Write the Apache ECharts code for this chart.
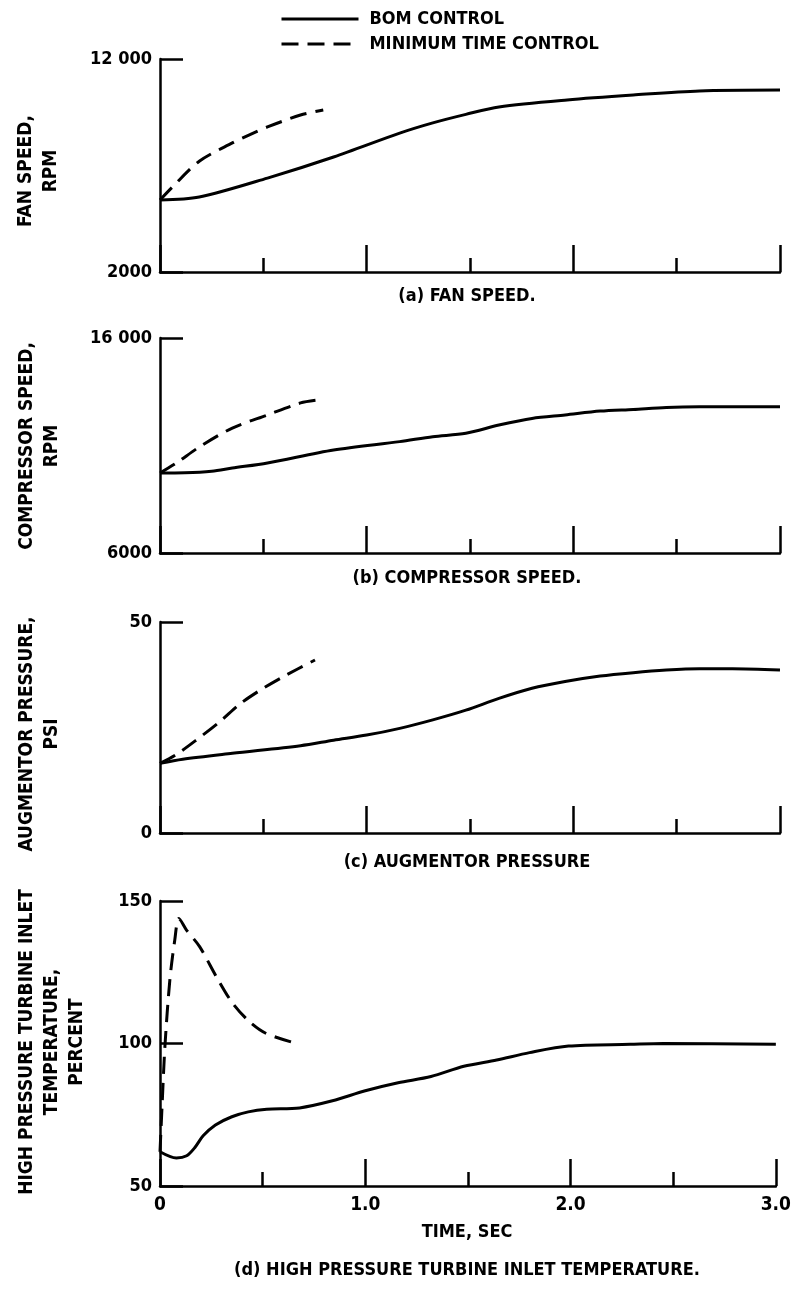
<!DOCTYPE html>
<html><head><meta charset="utf-8">
<script src="https://cdn.jsdelivr.net/npm/echarts@6/dist/echarts.min.js"></script>
<style>html,body{margin:0;padding:0;background:#fff}#c{width:794px;height:1291px}</style>
</head><body><div id="c"></div>
<script>
// ---------- DATA ----------
const seriesNames = ['BOM CONTROL', 'MINIMUM TIME CONTROL'];
const xTicks = ['0', '1.0', '2.0', '3.0'];

// (a) Fan speed, rpm
const fanBomT = [0, 0.19, 0.52, 0.84, 1.16, 1.32, 1.48, 1.64, 1.97, 2.29, 2.61, 3.0];
const fanBomV = [5380, 5520, 6410, 7400, 8520, 9000, 9400, 9750, 10080, 10310, 10500, 10540];
const fanMinT = [0, 0.06, 0.19, 0.35, 0.43, 0.52, 0.68, 0.79];
const fanMinV = [5380, 5990, 7200, 8060, 8430, 8810, 9370, 9610];

// (b) Compressor speed, rpm
const compBomT = [0, 0.12, 0.25, 0.35, 0.52, 0.84, 1.16, 1.32, 1.48, 1.64, 1.80, 1.96, 2.13, 2.29, 2.45, 2.61, 3.0];
const compBomV = [9720, 9730, 9800, 9950, 10190, 10790, 11180, 11410, 11570, 11950, 12260, 12420, 12600, 12680, 12770, 12800, 12800];
const compMinT = [0, 0.08, 0.19, 0.35, 0.52, 0.68, 0.765];
const compMinV = [9720, 10190, 10930, 11810, 12420, 12980, 13120];

// (c) Augmentor pressure, psi
const augBomT = [0, 0.11, 0.35, 0.68, 0.84, 1.0, 1.16, 1.32, 1.48, 1.64, 1.80, 1.96, 2.13, 2.29, 2.45, 2.61, 2.77, 3.0];
const augBomV = [16.5, 17.5, 18.9, 20.7, 22.0, 23.2, 24.8, 26.8, 29.1, 31.9, 34.3, 35.9, 37.2, 38.0, 38.6, 38.9, 38.9, 38.6];
const augMinT = [0, 0.076, 0.175, 0.29, 0.39, 0.50, 0.61, 0.75];
const augMinV = [16.5, 18.5, 22.0, 26.4, 30.7, 34.3, 37.4, 41.0];

// (d) High pressure turbine inlet temperature, percent
const tempBomT = [0, 0.08, 0.13, 0.17, 0.21, 0.27, 0.35, 0.43, 0.52, 0.68, 0.84, 1.0, 1.16, 1.32, 1.48, 1.64, 1.80, 1.99, 2.29, 2.45, 3.0];
const tempBomV = [62, 59.8, 60.6, 63.5, 67.6, 71.4, 74.3, 76.0, 76.9, 77.4, 79.9, 83.4, 86.2, 88.4, 92.0, 94.2, 96.8, 99.1, 99.7, 100, 99.7];
const tempMinT = [0, 0.01, 0.024, 0.048, 0.072, 0.092, 0.129, 0.193, 0.274, 0.354, 0.435, 0.515, 0.66];
const tempMinV = [62, 78, 99, 122.3, 136.3, 143.9, 139.8, 134, 123.5, 114.1, 107.7, 103.6, 100.1];

// y-axis settings per panel
const yMins = [2000, 6000, 0, 50];
const yMaxs = [12000, 16000, 50, 150];
const yIntervals = [10000, 10000, 50, 50];
const yTitles = ['FAN SPEED,\nRPM', 'COMPRESSOR SPEED,\nRPM', 'AUGMENTOR PRESSURE,\nPSI', 'HIGH PRESSURE TURBINE INLET\nTEMPERATURE,\nPERCENT'];
const captions = ['(a) FAN SPEED.', '(b) COMPRESSOR SPEED.', '(c) AUGMENTOR PRESSURE', '(d) HIGH PRESSURE TURBINE INLET TEMPERATURE.'];
const xTitle = 'TIME, SEC';

// ---------- LAYOUT ----------
const FONT = "'DejaVu Sans Condensed', 'Liberation Sans Narrow', sans-serif";
const INK = '#000';
const grids = [
  {left: 160, right: 14, top: 59, height: 213},
  {left: 160, right: 14, top: 338, height: 215},
  {left: 160, right: 14, top: 622, height: 211},
  {left: 160, right: 14, top: 901, height: 285}
];
const titlePos = [[39, 171], [40, 446], [40, 734], [52, 1042]];
const captionY = [296, 578, 862, 1270];

function pairs(t, v) { return t.map((x, i) => [x, v[i]]); }
const data = [
  [pairs(fanBomT, fanBomV), pairs(fanMinT, fanMinV)],
  [pairs(compBomT, compBomV), pairs(compMinT, compMinV)],
  [pairs(augBomT, augBomV), pairs(augMinT, augMinV)],
  [pairs(tempBomT, tempBomV), pairs(tempMinT, tempMinV)]
];

const xAxes = grids.map((g, i) => ({
  type: 'value', gridIndex: i, min: 0, max: 3, interval: 1,
  axisLine: {show: true, lineStyle: {color: INK, width: 2.5}},
  axisTick: {show: true, inside: true, length: 27, lineStyle: {color: INK, width: 2.5}},
  minorTick: {show: true, splitNumber: 2, length: 14, lineStyle: {color: INK, width: 2.5}},
  splitLine: {show: false},
  axisLabel: {show: i === 3, margin: 10, color: INK, fontFamily: FONT, fontWeight: 'bold', fontSize: 19,
    formatter: v => xTicks[Math.round(v)]}
}));

const yAxes = grids.map((g, i) => ({
  type: 'value', gridIndex: i, min: yMins[i], max: yMaxs[i], interval: yIntervals[i],
  axisLine: {show: true, lineStyle: {color: INK, width: 2.5}},
  axisTick: {show: true, inside: true, length: 23, lineStyle: {color: INK, width: 2.5}},
  splitLine: {show: false},
  axisLabel: {margin: 8, color: INK, fontFamily: FONT, fontWeight: 'bold', fontSize: 18,
    formatter: v => v >= 10000 ? String(v).replace(/(\d)(\d{3})$/, '$1 $2') : String(v)}
}));

const series = [];
data.forEach((pair, i) => {
  pair.forEach((d, k) => {
    series.push({
      name: seriesNames[k], type: 'line', xAxisIndex: i, yAxisIndex: i,
      data: d, symbol: 'none', smooth: 0.3, silent: true,
      itemStyle: {color: INK},
      lineStyle: {color: INK, width: 3, type: k === 0 ? 'solid' : [17, 9]}
    });
  });
});

const graphics = [];
yTitles.forEach((t, i) => {
  graphics.push({type: 'text', x: titlePos[i][0], y: titlePos[i][1], rotation: Math.PI / 2,
    style: {text: t, align: 'center', verticalAlign: 'middle', lineHeight: 25,
      font: "bold 19px " + FONT, fill: INK}});
});
captions.forEach((t, i) => {
  graphics.push({type: 'text', x: 467, y: captionY[i],
    style: {text: t, align: 'center', verticalAlign: 'middle', font: "bold 18px " + FONT, fill: INK}});
});
graphics.push({type: 'text', x: 467, y: 1232,
  style: {text: xTitle, align: 'center', verticalAlign: 'middle', font: "bold 18px " + FONT, fill: INK}});

const chart = echarts.init(document.getElementById('c'), null, {renderer: 'canvas'});
chart.setOption({
  backgroundColor: '#fff',
  animation: false,
  legend: {
    data: seriesNames, orient: 'vertical', left: 275, top: 5, itemWidth: 77, itemHeight: 14, itemGap: 7,
    selectedMode: false,
    itemStyle: {opacity: 0},
    lineStyle: {width: 3, color: INK},
    textStyle: {color: INK, fontFamily: FONT, fontWeight: 'bold', fontSize: 18, padding: [0, 0, 0, 6]}
  },
  grid: grids,
  xAxis: xAxes,
  yAxis: yAxes,
  series: series,
  graphic: graphics
});
</script></body></html>
